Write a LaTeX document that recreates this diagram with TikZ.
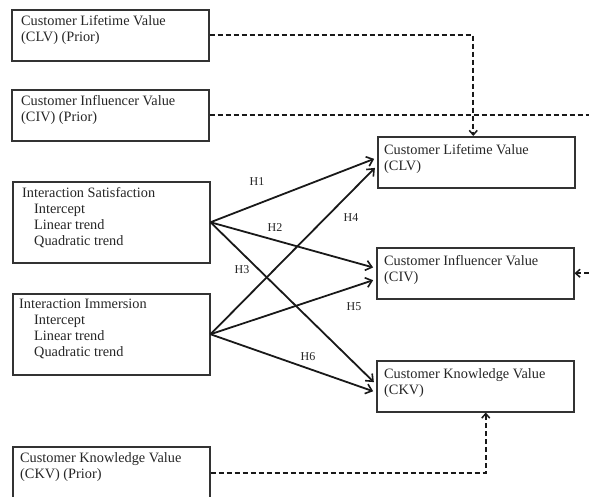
\documentclass[tikz,border=0pt]{standalone}
\usepackage{fontspec}
\setmainfont{Liberation Serif}
\usetikzlibrary{arrows.meta,calc}

\begin{document}
\begin{tikzpicture}[x=1pt,y=-1pt,
  box/.style={draw=black!80,line width=1.5pt,rectangle,inner sep=0pt,
    minimum width=197pt,minimum height=51pt,anchor=north west},
  tallbox/.style={box,minimum height=81pt},
  txt/.style={anchor=north west,inner sep=0pt,align=left,text=black!85,
    font=\fontsize{14.3}{16}\selectfont},
  hyp/.style={-{Straight Barb[length=6pt,width=10pt,line width=1.6pt]},
    line width=1.8pt,black!90,shorten >=3pt},
  prior/.style={-{Straight Barb[length=4.5pt,width=8pt,line width=1.5pt]},
    line width=1.8pt,black!90,dash pattern=on 5pt off 3pt},
  hlab/.style={font=\fontsize{12}{13}\selectfont,inner sep=0pt,text=black!85}]

\useasboundingbox (0,0) rectangle (589,496);
\fill[white] (0,0) rectangle (589,496);

% left column: prior values and interaction measures
\node[box] (clvp) at (11,9) {};
\node[txt] (clvpt) at (21,15) {Customer Lifetime Value\\(CLV) (Prior)};

\node[box] (civp) at (11,89) {};
\node[txt] (civpt) at (21,95) {Customer Influencer Value\\(CIV) (Prior)};

\node[tallbox] (sat) at (12,181) {};
\node[txt] (satt) at (22,187) {Interaction Satisfaction\\
  \hspace*{12pt}Intercept\\\hspace*{12pt}Linear trend\\\hspace*{12pt}Quadratic trend};

\node[tallbox] (imm) at (12,293) {};
\node[txt] (immt) at (19,299) {Interaction Immersion\\
  \hspace*{15pt}Intercept\\\hspace*{15pt}Linear trend\\\hspace*{15pt}Quadratic trend};

\node[box,minimum height=52pt] (ckvp) at (12,446) {};
\node[txt] (ckvpt) at (20,452) {Customer Knowledge Value\\(CKV) (Prior)};

% right column: outcome values
\node[box] (clv) at (377,136) {};
\node[txt] (clvt) at (384,144) {Customer Lifetime Value\\(CLV)};

\node[box] (civ) at (376,247) {};
\node[txt] (civt) at (384,255) {Customer Influencer Value\\(CIV)};

\node[box] (ckv) at (376,360) {};
\node[txt] (ckvt) at (384,368) {Customer Knowledge Value\\(CKV)};

% hypothesised paths
\draw[hyp] (sat.east) -- ($(clv.west)+(0,-4.5)$);
\draw[hyp] (sat.east) -- ($(civ.west)+(0,-5)$);
\draw[hyp] (sat.east) -- ($(ckv.west)+(0,-2)$);
\draw[hyp] (imm.east) -- ($(clv.west)+(0,3.5)$);
\draw[hyp] (imm.east) -- ($(civ.west)+(0,6)$);
\draw[hyp] (imm.east) -- ($(ckv.west)+(0,6)$);

\node[hlab] (h1) at (257,182) {H1};
\node[hlab] (h2) at (275,228) {H2};
\node[hlab] (h3) at (242,270) {H3};
\node[hlab] (h4) at (351,218) {H4};
\node[hlab] (h5) at (354,307) {H5};
\node[hlab] (h6) at (308,357) {H6};

% prior values as controls
\coordinate (rail) at (600,0);
\draw[prior] (clvp.east) -| ($(clv.north)+(-3,0)$);
\draw[prior] (civp.east) -| (rail |- civ.east) -- (civ.east);
\draw[prior] (ckvp.east) -| ($(ckv.south)+(10.5,0)$);
\end{tikzpicture}
\end{document}
